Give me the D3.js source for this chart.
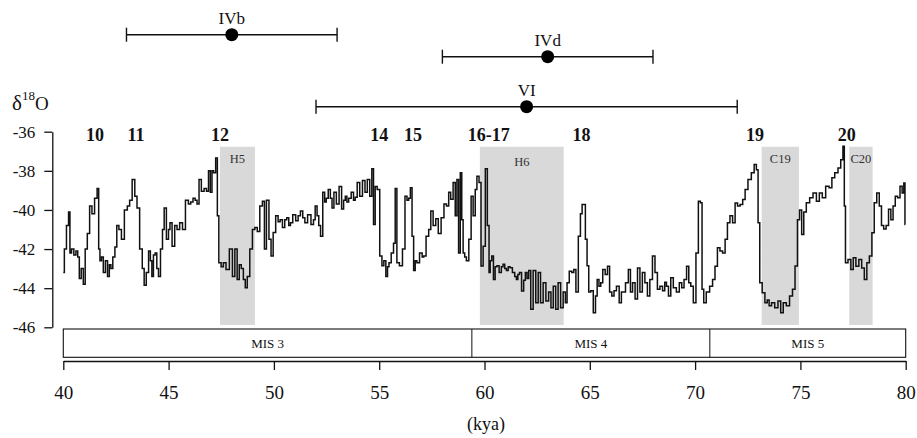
<!DOCTYPE html>
<html><head><meta charset="utf-8">
<script src="https://cdn.jsdelivr.net/npm/d3@7"></script>
<style>
html,body{margin:0;padding:0;background:#fff;}
svg{display:block;font-family:"Liberation Serif","Times New Roman",serif;}
</style></head>
<body>
<svg id="chart" width="917" height="438"></svg>
<script>
// ---- data ----
const kya = [40.00,40.10,40.20,40.30,40.33,40.45,40.55,40.65,40.72,40.80,40.90,41.00,41.08,41.20,41.30,41.42,41.55,41.66,41.70,41.78,41.85,41.95,42.05,42.15,42.22,42.30,42.40,42.50,42.58,42.70,42.82,42.98,43.10,43.20,43.34,43.45,43.55,43.70,43.80,43.88,44.00,44.10,44.17,44.24,44.32,44.40,44.48,44.56,44.67,44.75,44.83,44.96,45.03,45.10,45.23,45.35,45.45,45.60,45.72,45.88,46.00,46.10,46.22,46.30,46.40,46.49,46.62,46.75,46.85,46.94,47.02,47.10,47.17,47.30,47.33,47.44,
47.55,47.65,47.80,47.97,48.09,48.20,48.31,48.40,48.50,48.60,48.68,48.79,48.92,49.04,49.15,49.27,49.39,49.52,49.58,49.71,49.82,49.91,50.02,50.15,50.25,50.34,50.47,50.56,50.66,50.75,50.82,50.97,51.10,51.20,51.32,51.42,51.52,51.68,51.84,51.92,52.00,52.10,52.16,52.27,52.37,52.45,52.52,52.64,52.72,52.80,52.90,53.03,53.16,53.27,53.35,53.43,53.50,53.60,53.74,53.82,53.90,54.01,54.14,54.27,54.38,54.49,54.61,54.69,54.77,54.85,54.96,55.09,55.17,55.27,55.36,55.43,55.50,55.64,55.72,55.80,
55.88,56.04,56.17,56.28,56.36,56.44,56.52,56.60,56.67,56.75,56.83,57.00,57.08,57.15,57.30,57.40,57.50,57.62,57.75,57.86,58.02,58.13,58.26,58.34,58.45,58.57,58.65,58.73,58.81,58.89,58.95,59.02,59.10,59.18,59.33,59.40,59.52,59.60,59.68,59.80,59.87,60.00,60.08,60.19,60.24,60.30,60.39,60.46,60.55,60.63,60.76,60.84,60.92,61.00,61.08,61.17,61.26,61.39,61.48,61.55,61.62,61.70,61.82,61.90,61.98,62.06,62.14,62.25,62.37,62.50,62.60,62.72,62.85,62.98,63.11,63.20,63.33,63.43,63.56,63.67,63.80,63.88,63.96,
64.09,64.20,64.28,64.40,64.51,64.60,64.67,64.75,64.83,64.91,64.99,65.10,65.23,65.31,65.39,65.48,65.56,65.67,65.79,65.89,65.99,66.10,66.20,66.33,66.46,66.54,66.62,66.77,66.89,66.97,67.09,67.21,67.32,67.44,67.55,67.68,67.79,67.91,68.04,68.15,68.27,68.39,68.52,68.60,68.68,68.79,68.90,69.03,69.19,69.31,69.42,69.53,69.66,69.74,69.85,69.98,70.10,70.21,70.29,70.37,70.45,70.61,70.77,70.89,71.00,71.12,71.24,71.37,71.48,71.59,71.72,71.84,71.96,72.07,
72.20,72.32,72.43,72.59,72.75,72.86,72.96,73.02,73.12,73.25,73.38,73.47,73.56,73.70,73.86,74.01,74.12,74.25,74.41,74.56,74.69,74.80,74.92,75.00,75.12,75.20,75.36,75.52,75.68,75.84,75.96,76.12,76.28,76.44,76.55,76.71,76.86,76.97,77.07,77.10,77.18,77.34,77.45,77.57,77.70,77.85,77.97,78.10,78.21,78.34,78.45,78.56,78.69,78.80,78.90,79.01,79.13,79.24,79.35,79.45,79.56,79.67,79.79,79.87,79.95,79.98];
const d18O = [-43.2,-42.0,-40.8,-40.1,-42.2,-42.0,-42.3,-42.1,-42.4,-43.5,-43.0,-43.8,-42.0,-41.2,-39.8,-40.2,-39.4,-38.9,-42.0,-42.6,-42.4,-43.2,-42.6,-43.4,-42.8,-43.0,-42.4,-41.9,-40.8,-41.0,-41.5,-40.0,-39.8,-39.5,-38.45,-39.3,-39.9,-42.0,-43.0,-43.85,-43.2,-42.1,-42.6,-43.4,-42.3,-42.2,-43.0,-43.4,-42.0,-41.0,-39.9,-41.5,-41.0,-40.65,-41.85,-40.8,-41.0,-40.65,-41.0,-39.5,-39.7,-39.6,-39.4,-39.5,-39.7,-38.45,-39.05,-38.9,-39.05,-38.0,-39.1,-38.0,-38.1,-37.35,-40.3,-42.7,
-42.9,-42.7,-43.05,-42.0,-43.4,-42.0,-43.55,-42.8,-43.0,-43.55,-43.98,-43.4,-42.0,-41.0,-40.9,-41.1,-39.8,-39.55,-42.0,-39.5,-41.5,-42.35,-41.15,-40.3,-40.6,-40.5,-40.9,-40.5,-40.4,-40.8,-40.65,-40.25,-40.55,-40.3,-40.05,-40.4,-40.65,-40.25,-40.75,-40.5,-39.8,-40.3,-40.8,-41.35,-39.1,-39.6,-39.4,-38.95,-39.4,-39.9,-39.1,-39.7,-38.8,-39.95,-39.5,-39.3,-39.6,-39.4,-39.1,-39.5,-39.35,-38.6,-39.3,-38.5,-39.1,-38.45,-39.3,-37.9,-40.75,-38.8,-38.95,-42.35,-42.85,-42.6,-43.4,-42.9,-42.7,-42.2,-41.7,-38.9,
-42.7,-42.85,-42.0,-39.3,-39.5,-39.4,-38.87,-41.35,-43.1,-42.6,-42.7,-42.2,-42.4,-42.35,-41.35,-41.0,-40.05,-40.8,-40.45,-41.2,-40.4,-39.7,-39.8,-39.1,-39.45,-38.6,-40.3,-38.45,-42.2,-38.1,-40.5,-42.2,-42.4,-42.6,-41.5,-39.3,-40.3,-38.95,-38.28,-38.6,-42.87,-41.85,-37.9,-40.8,-43.2,-42.6,-42.35,-43.55,-42.9,-42.85,-43.2,-42.9,-42.78,-43.0,-43.1,-42.9,-42.95,-43.2,-43.4,-43.55,-43.3,-43.2,-44.15,-43.6,-43.2,-43.5,-43.1,-45.08,-43.1,-44.74,-43.2,-44.74,-43.72,-44.66,-44.2,-45.0,-43.9,-45.08,-43.72,-45.0,-44.2,-44.74,-43.72,
-43.13,-43.2,-43.05,-44.2,-41.35,-40.2,-39.72,-39.72,-41.5,-42.85,-44.2,-44.13,-45.25,-44.4,-43.55,-43.9,-43.72,-43.05,-43.3,-42.88,-44.2,-44.4,-44.13,-43.9,-44.74,-44.2,-44.2,-43.72,-43.05,-44.2,-43.72,-44.55,-42.97,-44.2,-43.2,-43.72,-44.4,-43.55,-42.35,-43.2,-44.05,-43.9,-44.13,-43.7,-43.9,-44.4,-43.47,-43.98,-44.2,-43.72,-43.98,-43.55,-42.88,-43.72,-43.9,-44.74,-42.2,-39.55,-39.63,-44.05,-44.74,-44.2,-43.9,-43.55,-42.88,-41.93,-42.1,-42.2,-41.5,-40.66,-40.3,-40.66,-39.64,-39.8,
-39.72,-39.47,-38.96,-38.45,-38.1,-37.68,-37.94,-40.66,-43.72,-44.23,-44.74,-44.6,-44.9,-44.74,-45.0,-44.66,-45.25,-44.74,-44.9,-44.4,-44.05,-42.87,-40.5,-40.0,-41.26,-40.1,-39.63,-39.38,-39.13,-39.55,-39.13,-39.38,-38.79,-38.87,-38.36,-38.1,-37.85,-37.43,-36.75,-39.8,-42.7,-42.53,-43.05,-42.45,-42.88,-42.53,-42.97,-43.55,-42.7,-42.35,-41.17,-39.63,-39.13,-39.8,-40.8,-40.97,-40.8,-39.97,-40.5,-39.8,-39.3,-39.38,-38.79,-39.13,-38.62,-40.75];

const xTicks = [40,45,50,55,60,65,70,75,80];
const yTicks = [-36,-38,-40,-42,-44,-46];

const eventLabels = ["10","11","12","14","15","16-17","18","19","20"];
const eventKya    = [41.5,43.45,47.44,55.0,56.6,60.2,64.6,72.85,77.2];

const stadialNames = ["H5","H6","C19","C20"];
const stadialStart = [47.44,59.78,73.16,77.32];
const stadialEnd   = [49.1,63.76,74.93,78.43];

const misNames  = ["MIS 3","MIS 4","MIS 5"];
const misBounds = [40,59.4,70.7,80];

const dateNames   = ["IVb","IVd","VI"];
const dateCenter  = [48,63,62];
const dateHalfErr = [5,5,10];

// ---- layout ----
const svg = d3.select("#chart");
const x = d3.scaleLinear().domain([40,80]).range([63.3,905.7]);
const y = d3.scaleLinear().domain([-36,-46]).range([131.7,327.3]);
const shadeTop = -36.77, shadeBottom = -45.88;
const dateRowY = [34.7,56.7,106.7];
const serif = "Liberation Serif, Times New Roman, serif";

// shaded stadials
const sg = svg.append("g");
stadialNames.forEach((n,i)=>{
  sg.append("rect")
    .attr("x", x(stadialStart[i])).attr("y", y(shadeTop))
    .attr("width", x(stadialEnd[i]) - x(stadialStart[i]))
    .attr("height", y(shadeBottom) - y(shadeTop))
    .attr("fill", "#d9d9d9");
  sg.append("text")
    .attr("x", (x(stadialStart[i]) + x(stadialEnd[i]))/2)
    .attr("y", y(shadeTop) + (n==="H6"?19:16.5))
    .attr("text-anchor","middle")
    .attr("font-size", 12.5).attr("fill","#333").text(n);
});

// series
const line = d3.line().x((d,i)=>x(kya[i])).y(d=>y(d)).curve(d3.curveStep);
svg.append("path").datum(d18O)
  .attr("d", line).attr("fill","none")
  .attr("stroke","#111").attr("stroke-width",1.5).attr("stroke-linejoin","miter");

// y axis
const yAxis = svg.append("g").attr("transform","translate(52.3,0)")
  .call(d3.axisLeft(y).tickValues(yTicks).tickSize(8).tickSizeOuter(0).tickPadding(9).tickFormat(d=>d));
yAxis.selectAll("path,line").attr("stroke","#111").attr("stroke-width",1.3);
yAxis.selectAll("text").attr("font-size",17).attr("font-family",serif).attr("fill","#111");

// x axis
const xAxis = svg.append("g").attr("transform","translate(0,361)")
  .call(d3.axisBottom(x).tickValues(xTicks).tickSize(9).tickSizeOuter(0).tickPadding(16));
xAxis.selectAll("path,line").attr("stroke","#111").attr("stroke-width",1.3);
xAxis.selectAll("text").attr("font-size",19).attr("font-family",serif).attr("fill","#111");

svg.append("text").attr("x",486).attr("y",430).attr("text-anchor","middle")
  .attr("font-size",18).attr("fill","#111").text("(kya)");

// MIS box
const mg = svg.append("g");
mg.append("rect").attr("x",x(40)).attr("y",329).attr("width",x(80)-x(40)).attr("height",28.3)
  .attr("fill","none").attr("stroke","#111").attr("stroke-width",1.1);
misBounds.slice(1,-1).forEach(b=>{
  mg.append("line").attr("x1",x(b)).attr("x2",x(b)).attr("y1",329).attr("y2",357.3)
    .attr("stroke","#111").attr("stroke-width",1);
});
misNames.forEach((n,i)=>{
  mg.append("text").attr("x",(x(misBounds[i])+x(misBounds[i+1]))/2).attr("y",347.5)
    .attr("text-anchor","middle").attr("font-size",13).attr("fill","#111").text(n);
});

// event labels
eventLabels.forEach((n,i)=>{
  svg.append("text").attr("x",x(eventKya[i])).attr("y",140.5)
    .attr("text-anchor","middle").attr("font-size",18).attr("font-weight","bold")
    .attr("fill","#111").text(n);
});

// y label
const yl = svg.append("text").attr("x",12).attr("y",110).attr("fill","#111");
yl.append("tspan").attr("font-size",21).text("δ");
yl.append("tspan").attr("font-size",13).attr("dy",-10).text("18");
yl.append("tspan").attr("font-size",19).attr("dy",10).text("O");

// dating error bars
const dg = svg.append("g");
dateNames.forEach((n,i)=>{
  const yy = dateRowY[i];
  const x0 = x(dateCenter[i]-dateHalfErr[i]), x1 = x(dateCenter[i]+dateHalfErr[i]);
  dg.append("line").attr("x1",x0).attr("x2",x1).attr("y1",yy).attr("y2",yy).attr("stroke","#111").attr("stroke-width",1.4);
  [x0,x1].forEach(xx=>dg.append("line").attr("x1",xx).attr("x2",xx).attr("y1",yy-7).attr("y2",yy+7).attr("stroke","#111").attr("stroke-width",1.4));
  dg.append("circle").attr("cx",x(dateCenter[i])).attr("cy",yy).attr("r",6.5).attr("fill","#000");
  dg.append("text").attr("x",x(dateCenter[i])).attr("y",yy-11).attr("text-anchor","middle")
    .attr("font-size",17).attr("fill","#111").text(n);
});
</script>
</body></html>
